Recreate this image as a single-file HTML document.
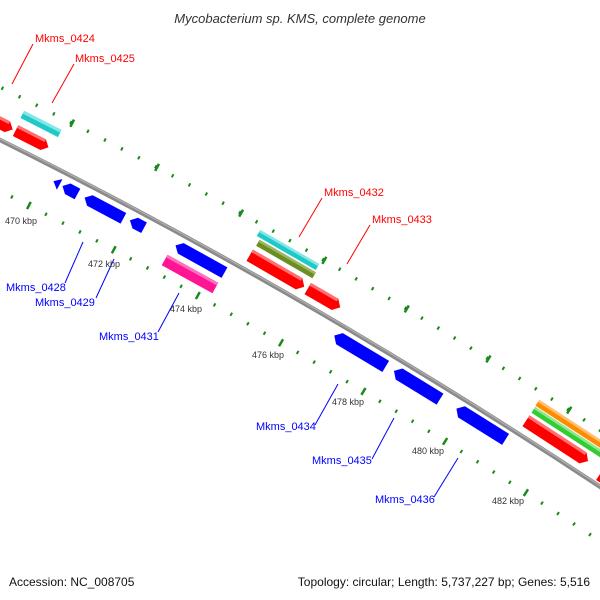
<!DOCTYPE html>
<html><head><meta charset="utf-8"><style>
html,body{margin:0;padding:0;background:#fff;}
svg{display:block;}
.lr{font-family:"Liberation Sans",sans-serif;font-size:11px;fill:#f00;}
.lb{font-family:"Liberation Sans",sans-serif;font-size:11px;fill:#00f;}
.k{font-family:"Liberation Sans",sans-serif;font-size:9px;fill:#333;}
</style></head><body>
<svg width="600" height="600" viewBox="0 0 600 600" xmlns="http://www.w3.org/2000/svg">
<rect width="600" height="600" fill="#fff"/>
<text x="300" y="23" text-anchor="middle" font-family="Liberation Sans, sans-serif" font-size="13" font-style="italic" fill="#333">Mycobacterium sp. KMS, complete genome</text>

<!-- ticks outer -->
<g fill="none" stroke="#1a8a1a">
<path transform="translate(22,-42)" d="M-60,110.7 Q320,292.9 700,554" stroke-width="3.5" stroke-dasharray="2 17.14" stroke-dashoffset="13.48"/>
<path transform="translate(22,-42)" d="M-60,110.7 Q320,292.9 700,554" stroke-width="8" stroke-dasharray="2.5 93.2" stroke-dashoffset="69.7"/>
<path transform="translate(-22,40)" d="M-60,110.7 Q320,292.9 700,554" stroke-width="3.5" stroke-dasharray="2 17.14" stroke-dashoffset="11.18"/>
<path transform="translate(-22,40)" d="M-60,110.7 Q320,292.9 700,554" stroke-width="8" stroke-dasharray="2.5 93.2" stroke-dashoffset="68.9"/>
</g>
<!-- backbone -->
<path d="M-60,110.7 Q320,292.9 700,554" fill="none" stroke="#8a8a8a" stroke-width="4.5"/>
<path d="M-60,109.7 Q320,291.9 700,553" fill="none" stroke="#b0b0b0" stroke-width="1.2"/>

<!-- genes -->
<g transform="translate(2,124) rotate(27)"><polygon points="-12,-6 6,-6 12,0 6,6 -12,6" fill="#f00"/><rect x="-12" y="-6" width="18" height="3" fill="#ff7070"/></g>
<g transform="translate(32,139) rotate(27)"><polygon points="-18.5,-6 12.5,-6 18.5,0 12.5,6 -18.5,6" fill="#f00"/><rect x="-18.5" y="-6" width="31" height="3" fill="#ff7070"/></g>
<g transform="translate(41,124) rotate(27)"><rect x="-21" y="-4" width="42" height="8" fill="#20c8c8"/><rect x="-21" y="-4" width="42" height="3" fill="#80e8e8"/></g>
<g transform="translate(57,183) rotate(28)"><polygon points="-4,0 3,-6 3,6" fill="#00f"/></g>
<g transform="translate(70,190) rotate(28)"><polygon points="-8.5,0 -2.5,-6 8.5,-6 8.5,6 -2.5,6" fill="#00f"/></g>
<g transform="translate(104,208) rotate(28)"><polygon points="-22,0 -16,-6 22,-6 22,6 -16,6" fill="#00f"/></g>
<g transform="translate(137,224) rotate(28)"><polygon points="-8,0 -2,-6 8,-6 8,6 -2,6" fill="#00f"/></g>
<g transform="translate(200,259) rotate(29)"><polygon points="-28,0 -22,-6 28,-6 28,6 -22,6" fill="#00f"/></g>
<g transform="translate(190,274) rotate(29)"><rect x="-29" y="-6" width="58" height="12" fill="#ff1493"/><rect x="-29" y="-6" width="58" height="3" fill="#ff70c0"/></g>
<g transform="translate(288,250) rotate(30)"><rect x="-34" y="-3.5" width="68" height="7" fill="#20c8c8"/><rect x="-34" y="-3.5" width="68" height="2.5" fill="#80e8e8"/></g>
<g transform="translate(286,259) rotate(30)"><rect x="-32.5" y="-3.5" width="65" height="7" fill="#6b8e23"/><rect x="-32.5" y="-3.5" width="65" height="2.5" fill="#9ab860"/></g>
<g transform="translate(277,271) rotate(30)"><polygon points="-31.5,-6.5 25.5,-6.5 31.5,0 25.5,6.5 -31.5,6.5" fill="#f00"/><rect x="-31.5" y="-6.5" width="57" height="3" fill="#ff7070"/></g>
<g transform="translate(324,298) rotate(30)"><polygon points="-18.75,-6.5 12.75,-6.5 18.75,0 12.75,6.5 -18.75,6.5" fill="#f00"/><rect x="-18.75" y="-6.5" width="31.5" height="3" fill="#ff7070"/></g>
<g transform="translate(360,351) rotate(31)"><polygon points="-30,0 -24,-6.5 30,-6.5 30,6.5 -24,6.5" fill="#00f"/></g>
<g transform="translate(417,385) rotate(31.5)"><polygon points="-27,0 -21,-6.5 27,-6.5 27,6.5 -21,6.5" fill="#00f"/></g>
<g transform="translate(481,424) rotate(32)"><polygon points="-29,0 -23,-6.5 29,-6.5 29,6.5 -23,6.5" fill="#00f"/></g>
<g transform="translate(573,426) rotate(33)"><rect x="-42.5" y="-3.5" width="85" height="7" fill="#ff8c00"/><rect x="-42.5" y="-3.5" width="85" height="2.5" fill="#ffc070"/></g>
<g transform="translate(569,433) rotate(33)"><rect x="-42.5" y="-3.5" width="85" height="7" fill="#33cc33"/><rect x="-42.5" y="-3.5" width="85" height="2.5" fill="#90e890"/></g>
<g transform="translate(557,441) rotate(33)"><polygon points="-37,-6.5 31,-6.5 37,0 31,6.5 -37,6.5" fill="#f00"/><rect x="-37" y="-6.5" width="68" height="3" fill="#ff7070"/></g>
<g transform="translate(608,480) rotate(33)"><polygon points="-10,-6.5 4,-6.5 10,0 4,6.5 -10,6.5" fill="#f00"/></g>

<!-- label lines -->
<g stroke-width="1" fill="none">
<line x1="33" y1="44" x2="12" y2="84" stroke="#f00"/>
<line x1="74" y1="64" x2="52" y2="103" stroke="#f00"/>
<line x1="322" y1="198" x2="299" y2="237" stroke="#f00"/>
<line x1="370" y1="225" x2="347" y2="264" stroke="#f00"/>
<line x1="65" y1="283" x2="83" y2="242" stroke="#00f"/>
<line x1="96" y1="298" x2="114" y2="259" stroke="#00f"/>
<line x1="158" y1="332" x2="179" y2="293" stroke="#00f"/>
<line x1="315" y1="425" x2="338" y2="384" stroke="#00f"/>
<line x1="372" y1="459" x2="394" y2="418" stroke="#00f"/>
<line x1="434" y1="497" x2="458" y2="458" stroke="#00f"/>
</g>
<text class="lr" x="35" y="42">Mkms_0424</text>
<text class="lr" x="75" y="62">Mkms_0425</text>
<text class="lr" x="324" y="196">Mkms_0432</text>
<text class="lr" x="372" y="223">Mkms_0433</text>
<text class="lb" x="6" y="291">Mkms_0428</text>
<text class="lb" x="35" y="306">Mkms_0429</text>
<text class="lb" x="99" y="340">Mkms_0431</text>
<text class="lb" x="256" y="430">Mkms_0434</text>
<text class="lb" x="312" y="464">Mkms_0435</text>
<text class="lb" x="375" y="503">Mkms_0436</text>

<text class="k" x="5" y="224">470 kbp</text>
<text class="k" x="88" y="267">472 kbp</text>
<text class="k" x="170" y="312">474 kbp</text>
<text class="k" x="252" y="358">476 kbp</text>
<text class="k" x="332" y="405">478 kbp</text>
<text class="k" x="412" y="454">480 kbp</text>
<text class="k" x="492" y="504">482 kbp</text>

<text x="9" y="586" font-family="Liberation Sans, sans-serif" font-size="12" fill="#111">Accession: NC_008705</text>
<text x="590" y="586" text-anchor="end" font-family="Liberation Sans, sans-serif" font-size="12" fill="#111">Topology: circular; Length: 5,737,227 bp; Genes: 5,516</text>
</svg>
</body></html>
